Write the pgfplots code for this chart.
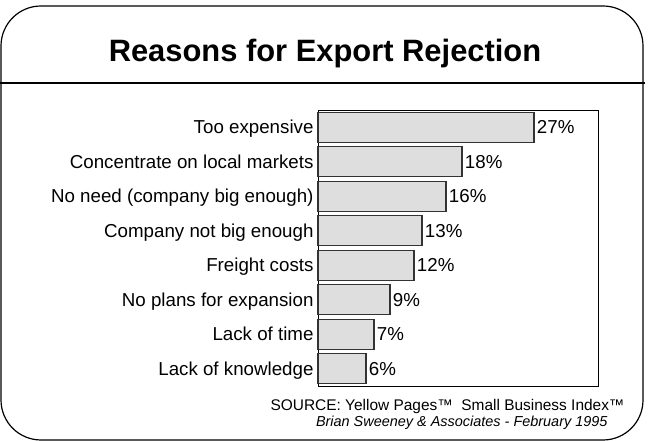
\documentclass[border=0pt]{standalone}
\usepackage{fontspec}
\setmainfont{Liberation Sans}
\usepackage{pgfplots}
\pgfplotsset{compat=1.18}
\begin{document}
\begin{tikzpicture}[x=1bp,y=1bp]
\path[use as bounding box] (0,0) rectangle (650,441);
% outer rounded frame
\draw[line width=1.2bp, rounded corners=40bp] (1,435) rectangle (643,1);
\draw[line width=1.2bp] (0,358) -- (645,358);
\node[anchor=base, font=\fontsize{31}{36}\selectfont\bfseries] at (325,379) {Reasons for Export Rejection};
\begin{axis}[
  at={(318bp,55bp)}, anchor=south west,
  scale only axis, width=280bp, height=276bp,
  xbar, bar width=0.87,
  xmin=0, xmax=35, ymin=-0.5, ymax=7.5,
  y dir=reverse,
  xtick=\empty,
  ytick={0,1,2,3,4,5,6,7},
  yticklabels={Too expensive,Concentrate on local markets,No need (company big enough),Company not big enough,Freight costs,No plans for expansion,Lack of time,Lack of knowledge},
  major tick length=0pt,
  yticklabel style={font=\fontsize{18.8}{22}\selectfont, text height=0.72em, text depth=0pt, xshift=-1bp, yshift=-3bp},
  axis line style={line width=0.9bp, black},
  point meta=x,
  nodes near coords={\pgfmathprintnumber[assume math mode=true]{\pgfplotspointmeta}\%},
  nodes near coords style={font=\fontsize{18.8}{22}\selectfont, text height=0.72em, text depth=0pt, anchor=west, xshift=-1bp, yshift=-3bp},
  clip=false,
]
\addplot[fill=black!13, draw=black!80, line width=1.2bp] coordinates {
(27,0) (18,1) (16,2) (13,3) (12,4) (9,5) (7,6) (6,7)
};
\end{axis}
\node[anchor=base east, font=\fontsize{15.5}{18}\selectfont] at (628,30) {SOURCE: Yellow Pages™\ \ Small Business Index™};
\node[anchor=base east, font=\fontsize{14.5}{17}\selectfont\itshape] at (611,14) {Brian Sweeney \& Associates - February 1995};
\end{tikzpicture}
\end{document}
